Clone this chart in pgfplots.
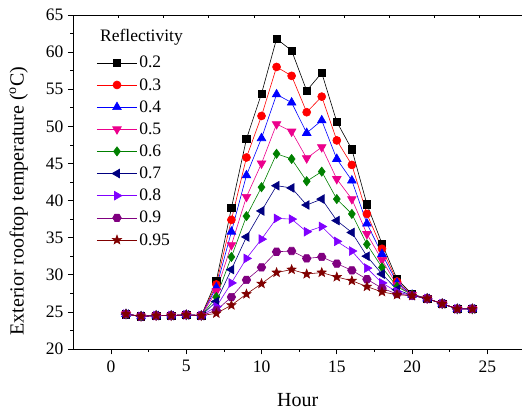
\documentclass[border=0pt]{standalone}
\usepackage{fontspec}
\setmainfont{Liberation Serif}
\usepackage{pgfplots}
\pgfplotsset{compat=1.18}

\definecolor{cnavy}{RGB}{0,0,128}
\definecolor{cgreen}{RGB}{0,128,0}
\definecolor{cviolet}{RGB}{128,0,255}
\definecolor{cpurple}{RGB}{128,0,128}
\definecolor{cwine}{RGB}{128,0,0}

\pgfdeclareplotmark{hexagon*}{%
  \pgfpathmoveto{\pgfqpointpolar{0}{\pgfplotmarksize}}%
  \pgfpathlineto{\pgfqpointpolar{60}{\pgfplotmarksize}}%
  \pgfpathlineto{\pgfqpointpolar{120}{\pgfplotmarksize}}%
  \pgfpathlineto{\pgfqpointpolar{180}{\pgfplotmarksize}}%
  \pgfpathlineto{\pgfqpointpolar{240}{\pgfplotmarksize}}%
  \pgfpathlineto{\pgfqpointpolar{300}{\pgfplotmarksize}}%
  \pgfpathclose
  \pgfusepathqfillstroke}
\pgfdeclareplotmark{fstar*}{%
  \pgfpathmoveto{\pgfqpointpolar{90}{\pgfplotmarksize}}%
  \pgfpathlineto{\pgfqpointpolar{126}{0.42\pgfplotmarksize}}%
  \pgfpathlineto{\pgfqpointpolar{162}{\pgfplotmarksize}}%
  \pgfpathlineto{\pgfqpointpolar{198}{0.42\pgfplotmarksize}}%
  \pgfpathlineto{\pgfqpointpolar{234}{\pgfplotmarksize}}%
  \pgfpathlineto{\pgfqpointpolar{270}{0.42\pgfplotmarksize}}%
  \pgfpathlineto{\pgfqpointpolar{306}{\pgfplotmarksize}}%
  \pgfpathlineto{\pgfqpointpolar{342}{0.42\pgfplotmarksize}}%
  \pgfpathlineto{\pgfqpointpolar{18}{\pgfplotmarksize}}%
  \pgfpathlineto{\pgfqpointpolar{54}{0.42\pgfplotmarksize}}%
  \pgfpathclose
  \pgfusepathqfillstroke}

\begin{document}
\begin{tikzpicture}
\begin{axis}[
  scale only axis, width=448.7pt, height=334pt,
  xmin=-2.5, xmax=27.3, ymin=20, ymax=65,
  axis x line*=bottom, axis y line*=left,
  axis line style={-, line width=0.8pt},
  xtick={0,5,...,25}, ytick={20,25,...,65},
  minor x tick num=1, minor y tick num=1,
  tick align=outside,
  major tick length=5.5pt, minor tick length=3pt,
  tick style={black, line width=0.7pt},
  ticklabel style={font=\rmfamily\fontsize{17.5}{20}\selectfont},
  xticklabel style={yshift=-2.5pt},
  yticklabel style={xshift=-1pt},
  /pgf/number format/assume math mode=true,
  xlabel={Hour},
  ylabel={Exterior rooftop temperature (\textsuperscript{o}C)},
  label style={font=\rmfamily\fontsize{20}{24}\selectfont},
  xlabel style={at={(axis description cs:0.5,-0.153)}, anchor=center},
  ylabel style={at={(axis description cs:-0.1215,0.443)}, anchor=center},
  legend style={draw=none, fill=none, at={(axis description cs:0.045,0.889)}, anchor=north west,
    font=\rmfamily\fontsize{17.5}{20}\selectfont, row sep=5pt},
  legend cell align=left,
  legend image code/.code={\draw[mark repeat=2,mark phase=2] plot coordinates {(0pt,0pt) (20pt,0pt) (40pt,0pt)};},
  every axis plot/.append style={line width=0.6pt, mark options={solid}},
]
\addplot[color=black, mark=square*, mark size=3.7pt] coordinates {
(1,24.7)(2,24.4)(3,24.5)(4,24.5)(5,24.6)(6,24.5)
(7,29.2)(8,39.0)(9,48.3)(10,54.4)(11,61.8)(12,60.2)(13,54.8)(14,57.2)(15,50.6)(16,46.9)(17,39.5)(18,34.2)(19,29.4)
(20,27.4)(21,26.8)(22,26.1)(23,25.4)(24,25.4)};
\addlegendentry{0.2}
\addplot[color=red, mark=*, mark size=4pt] coordinates {
(1,24.7)(2,24.4)(3,24.5)(4,24.5)(5,24.6)(6,24.5)
(7,28.7)(8,37.4)(9,45.8)(10,51.4)(11,58.0)(12,56.8)(13,51.9)(14,54.0)(15,48.1)(16,44.8)(17,38.2)(18,33.5)(19,29.1)
(20,27.3)(21,26.8)(22,26.1)(23,25.4)(24,25.4)};
\addlegendentry{0.3}
\addplot[color=blue, mark=triangle*, mark size=5pt] coordinates {
(1,24.7)(2,24.4)(3,24.5)(4,24.5)(5,24.6)(6,24.5)
(7,28.3)(8,35.8)(9,43.4)(10,48.4)(11,54.3)(12,53.2)(13,49.1)(14,50.8)(15,45.6)(16,42.7)(17,36.9)(18,32.8)(19,28.9)
(20,27.3)(21,26.8)(22,26.1)(23,25.4)(24,25.4)};
\addlegendentry{0.4}
\addplot[color=magenta, mark=triangle*, mark size=5pt, mark options={rotate=180}] coordinates {
(1,24.7)(2,24.4)(3,24.5)(4,24.5)(5,24.6)(6,24.5)
(7,27.8)(8,34.0)(9,40.5)(10,45.0)(11,50.3)(12,49.3)(13,45.7)(14,47.2)(15,42.9)(16,40.2)(17,35.5)(18,32.0)(19,28.6)
(20,27.3)(21,26.8)(22,26.1)(23,25.4)(24,25.4)};
\addlegendentry{0.5}
\addplot[color=cgreen, mark=diamond*, mark size=4.6pt] coordinates {
(1,24.7)(2,24.4)(3,24.5)(4,24.5)(5,24.6)(6,24.5)
(7,27.0)(8,32.4)(9,37.9)(10,41.8)(11,46.3)(12,45.6)(13,42.6)(14,43.9)(15,40.2)(16,38.2)(17,34.1)(18,31.0)(19,28.4)
(20,27.3)(21,26.8)(22,26.1)(23,25.4)(24,25.4)};
\addlegendentry{0.6}
\addplot[color=cnavy, mark=triangle*, mark size=5pt, mark options={rotate=90}] coordinates {
(1,24.7)(2,24.4)(3,24.5)(4,24.5)(5,24.6)(6,24.5)
(7,26.4)(8,30.7)(9,35.1)(10,38.6)(11,42.0)(12,41.7)(13,39.4)(14,40.2)(15,37.3)(16,35.7)(17,32.5)(18,30.1)(19,28.0)
(20,27.2)(21,26.8)(22,26.1)(23,25.4)(24,25.4)};
\addlegendentry{0.7}
\addplot[color=cviolet, mark=triangle*, mark size=5pt, mark options={rotate=-90}] coordinates {
(1,24.7)(2,24.4)(3,24.5)(4,24.5)(5,24.6)(6,24.5)
(7,25.7)(8,28.9)(9,32.2)(10,34.8)(11,37.6)(12,37.5)(13,35.8)(14,36.5)(15,34.5)(16,33.2)(17,30.9)(18,28.9)(19,27.7)
(20,27.2)(21,26.8)(22,26.1)(23,25.4)(24,25.4)};
\addlegendentry{0.8}
\addplot[color=cpurple, mark=hexagon*, mark size=4.3pt] coordinates {
(1,24.7)(2,24.4)(3,24.5)(4,24.5)(5,24.6)(6,24.5)
(7,25.2)(8,27.0)(9,29.3)(10,31.0)(11,33.1)(12,33.2)(13,32.2)(14,32.4)(15,31.5)(16,30.6)(17,29.4)(18,28.2)(19,27.4)
(20,27.2)(21,26.8)(22,26.1)(23,25.4)(24,25.4)};
\addlegendentry{0.9}
\addplot[color=cwine, mark=fstar*, mark size=4.8pt] coordinates {
(1,24.7)(2,24.4)(3,24.5)(4,24.5)(5,24.6)(6,24.5)
(7,24.8)(8,25.9)(9,27.4)(10,28.8)(11,30.3)(12,30.7)(13,30.1)(14,30.3)(15,29.7)(16,29.2)(17,28.4)(18,27.7)(19,27.3)
(20,27.2)(21,26.8)(22,26.1)(23,25.4)(24,25.4)};
\addlegendentry{0.95}
\node[anchor=base west, inner sep=0pt, font=\rmfamily\fontsize{17.5}{20}\selectfont] at (axis description cs:0.0595,0.920) {Reflectivity};
\end{axis}
\begin{axis}[
  scale only axis, width=448.7pt, height=334pt,
  xmin=-2.5, xmax=27.3, ymin=20, ymax=65,
  axis x line*=top, axis y line=none,
  axis line style={-, line width=0.8pt},
  xtick={0.5,3.5,...,24.5}, xticklabels={},
  minor x tick num=0,
  tick align=inside, major tick length=3pt,
  tick style={black, line width=0.7pt},
]
\end{axis}
\pgfresetboundingbox
\path[use as bounding box] (-73.3pt,-62pt) rectangle (448.7pt,349pt);
\end{tikzpicture}
\end{document}
